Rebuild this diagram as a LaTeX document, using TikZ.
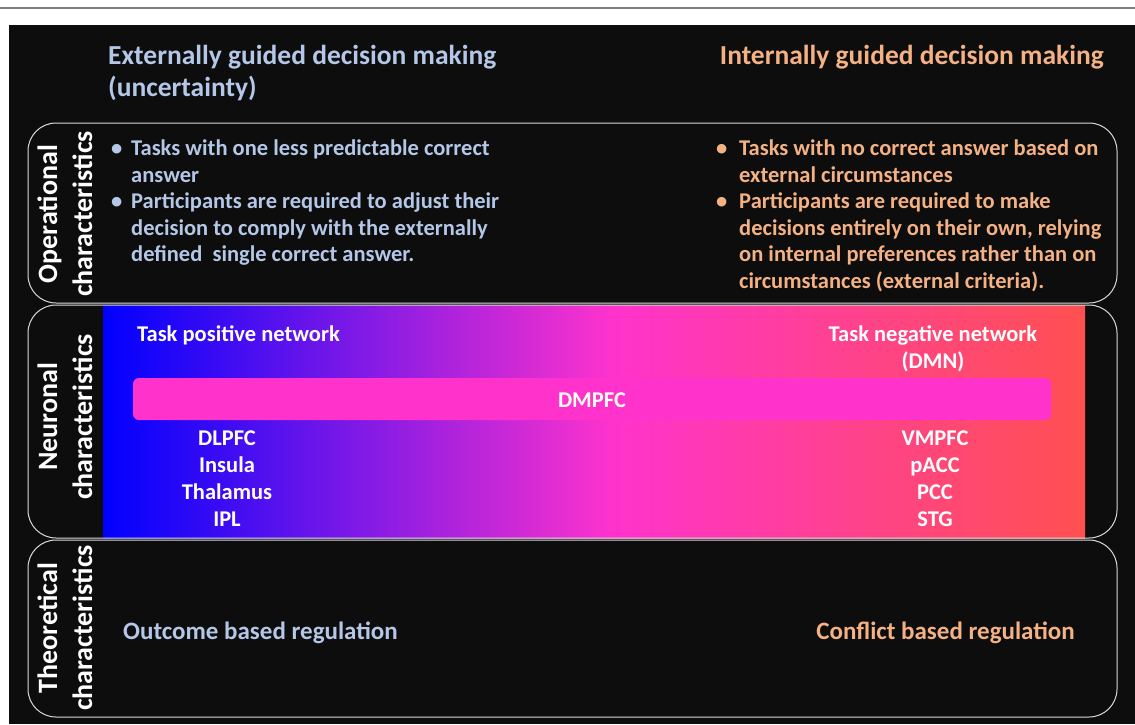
\documentclass[tikz,border=0pt]{standalone}
\usepackage{fontspec}
\setmainfont{Carlito}
\definecolor{panel}{HTML}{0D0D0D}
\definecolor{rule}{HTML}{7F7F7F}
\definecolor{frame}{HTML}{D9D9D9}
\definecolor{extblue}{HTML}{B4C7E7}
\definecolor{intorange}{HTML}{F4B183}
\definecolor{dmpfc}{HTML}{FF33CC}
\definecolor{netred}{HTML}{FF5050}
\pgfdeclarehorizontalshading{netshade}{100bp}{color(0bp)=(blue); color(25bp)=(blue); color(51bp)=(dmpfc); color(75bp)=(netred); color(100bp)=(netred)}
\tikzset{
  rowbox/.style={draw=frame,line width=1pt,rounded corners=28pt},
  rowlabel/.style={rotate=90,align=center,text=white,inner sep=0pt,font=\fontsize{28}{35}\selectfont\bfseries},
  txt/.style={inner sep=0pt,font=\fontsize{22.5}{27}\selectfont\bfseries},
  ext/.style={txt,anchor=base west,text=extblue},
  int/.style={txt,anchor=base west,text=intorange},
  net/.style={txt,anchor=base,text=white},
  head/.style={font=\fontsize{27.5}{32}\selectfont\bfseries},
  concl/.style={font=\fontsize{25}{30}\selectfont\bfseries},
}
\begin{document}
\begin{tikzpicture}[x=1pt,y=-1pt]
\pgfmathsetmacro{\kleft}{28}
\pgfmathsetmacro{\kright}{1117}
\pgfmathsetmacro{\kgl}{103}
\pgfmathsetmacro{\kgr}{1085}
\pgfmathsetmacro{\kline}{26.6}
\pgfmathsetmacro{\knet}{27}
\useasboundingbox (0,0) rectangle (1135,724);
\fill[white] (0,0) rectangle (1135,724);
\draw[rule,line width=1.5pt] (0,8) -- (1135,8);
\fill[panel] (9,25) rectangle (1135,724);
% column headers
\node[ext,head] (hExt1) at (108,64) {Externally guided decision making};
\node[ext,head] (hExt2) at (108,96) {(uncertainty)};
\node[int,head,anchor=base east] (hInt) at (1104,64) {Internally guided decision making};
% rows
\shade[shading=netshade] (\kgl,305) rectangle (\kgr,538);
\draw[rowbox] (\kleft,123) rectangle (\kright,303);
\draw[rowbox] (\kleft,305) rectangle (\kright,538);
\draw[rowbox] (\kleft,540) rectangle (\kright,717);
\node[rowlabel] (lOp) at (65,214) {Operational\\characteristics};
\node[rowlabel] (lNeu) at (65,417) {Neuronal\\characteristics};
\node[rowlabel] (lTh) at (65,628) {Theoretical\\characteristics};
% operational
\foreach \i/\t in {0/{Tasks with one less predictable correct},1/{answer},2/{Participants are required to adjust their},3/{decision to comply with the externally},4/{defined\ \ single correct answer.}}{\node[ext] (opL\i) at (131,155.5+\i*\kline) {\t};}
\foreach \i/\t in {0/{Tasks with no correct answer based on},1/{external circumstances},2/{Participants are required to make},3/{decisions entirely on their own, relying},4/{on internal preferences rather than on},5/{circumstances (external criteria).}}{\node[int] (opR\i) at (739,155.5+\i*\kline) {\t};}
\foreach \i in {0,2}{
  \node[ext] (bL\i) at (111,155.5+\i*\kline) {•};
  \node[int] (bR\i) at (716,155.5+\i*\kline) {•};
}
% neuronal
\node[net,anchor=base west] (tpn) at (137,341) {Task positive network};
\node[net] (tnn1) at (933,341) {Task negative network};
\node[net] (tnn2) at (933,368) {(DMN)};
\fill[dmpfc,rounded corners=6pt] (133,378) rectangle (1051,420);
\node[net] (dmpfc) at (592,407) {DMPFC};
\foreach \i/\r in {0/DLPFC,1/Insula,2/Thalamus,3/IPL}{\node[net] (tp\i) at (227,445+\i*\knet) {\r};}
\foreach \i/\r in {0/VMPFC,1/pACC,2/PCC,3/STG}{\node[net] (tn\i) at (935,445+\i*\knet) {\r};}
% theoretical
\node[ext,concl] (outcome) at (123,639) {Outcome based regulation};
\node[int,concl,anchor=base east] (conflict) at (1075,639) {Conflict based regulation};
\end{tikzpicture}
\end{document}
